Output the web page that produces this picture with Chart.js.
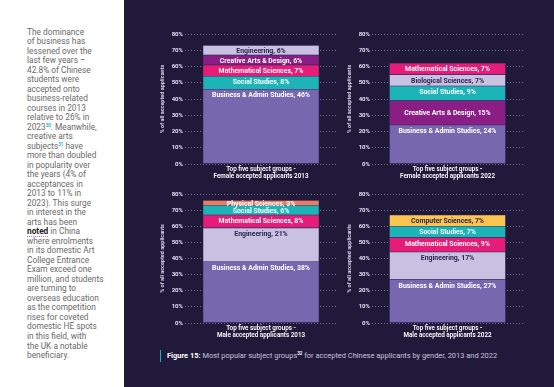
<!DOCTYPE html>
<html>
<head>
<meta charset="utf-8">
<script src="https://cdn.jsdelivr.net/npm/chart.js@4.4.1/dist/chart.umd.min.js"></script>
<style>
  html, body { margin: 0; padding: 0; }
  body { width: 554px; height: 387px; background: #fff; position: relative; overflow: hidden; font-family: Roboto, sans-serif; }
  #copy { position: absolute; left: 27px; top: 27.5px; font-size: 8.3px; line-height: 9.51px; color: #6a6a6a; white-space: nowrap; }
  #copy sup { color: #1db4b7; font-size: 4.5px; font-weight: bold; vertical-align: 3px; line-height: 0; }
  #copy b { color: #222; border-bottom: 1px dotted #b07ad0; }
  #panel { position: absolute; left: 124px; top: 0; width: 430px; height: 387px; background: #21193a; }
  canvas { position: absolute; }
  #caption { position: absolute; left: 167px; top: 351px; font-size: 7.45px; line-height: 10px; color: #c9c5da; white-space: nowrap; }
  #caption b { color: #fff; }
  #caption sup { font-size: 4.5px; color: #fff; font-weight: bold; vertical-align: 3px; line-height: 0; }
  #rule { position: absolute; left: 159.5px; top: 350px; width: 1.5px; height: 12px; background: #1db4b7; }
</style>
</head>
<body>
<div id="copy">
The dominance<br>
of business has<br>
lessened over the<br>
last few years –<br>
42.8% of Chinese<br>
students were<br>
accepted onto<br>
business-related<br>
courses in 2013<br>
relative to 26% in<br>
2023<sup>30</sup>. Meanwhile,<br>
creative arts<br>
subjects<sup>31</sup> have<br>
more than doubled<br>
in popularity over<br>
the years (4% of<br>
acceptances in<br>
2013 to 11% in<br>
2023). This surge<br>
in interest in the<br>
arts has been<br>
<b>noted</b> in China<br>
where enrolments<br>
in its domestic Art<br>
College Entrance<br>
Exam exceed one<br>
million, and students<br>
are turning to<br>
overseas education<br>
as the competition<br>
rises for coveted<br>
domestic HE spots<br>
in this field, with<br>
the UK a notable<br>
beneficiary.
</div>
<div id="panel"></div>
<canvas id="c1" width="185" height="156" style="left:158px;top:26px"></canvas>
<canvas id="c2" width="184" height="156" style="left:345px;top:26px"></canvas>
<canvas id="c3" width="185" height="155" style="left:158px;top:186px"></canvas>
<canvas id="c4" width="184" height="155" style="left:345px;top:186px"></canvas>
<div id="rule"></div>
<div id="caption"><b>Figure 15:</b> Most popular subject groups<sup>32</sup> for accepted Chinese applicants by gender, 2013 and 2022</div>
<script>
// values (bottom segment first)
const female2013Subjects = ['Business & Admin Studies', 'Social Studies', 'Mathematical Sciences', 'Creative Arts & Design', 'Engineering'];
const female2013Values = [46, 8, 7, 6, 6];

const female2022Subjects = ['Business & Admin Studies', 'Creative Arts & Design', 'Social Studies', 'Biological Sciences', 'Mathematical Sciences'];
const female2022Values = [24, 15, 9, 7, 7];

const male2013Subjects = ['Business & Admin Studies', 'Engineering', 'Mathematical Sciences', 'Social Studies', 'Physical Sciences'];
const male2013Values = [38, 21, 8, 6, 3];

const male2022Subjects = ['Business & Admin Studies', 'Engineering', 'Mathematical Sciences', 'Social Studies', 'Computer Sciences'];
const male2022Values = [27, 17, 9, 7, 7];

const yTicks = [0, 10, 20, 30, 40, 50, 60, 70, 80];

const colours = {
  'Business & Admin Studies': '#7767ae',
  'Social Studies': '#1db4b7',
  'Mathematical Sciences': '#e61d78',
  'Creative Arts & Design': '#8a1e84',
  'Engineering': '#c8c1e1',
  'Biological Sciences': '#c8c1e1',
  'Physical Sciences': '#f07b5d',
  'Computer Sciences': '#fcc54f'
};
const darkText = ['Engineering', 'Biological Sciences', 'Computer Sciences'];

Chart.defaults.font.family = 'Roboto, sans-serif';

const segmentLabels = {
  id: 'segmentLabels',
  afterDatasetsDraw(chart, args, opts) {
    const ctx = chart.ctx;
    ctx.save();
    ctx.font = 'bold 6.9px Roboto';
    ctx.textAlign = 'center';
    ctx.textBaseline = 'middle';
    chart.data.datasets.forEach((ds, i) => {
      const bar = chart.getDatasetMeta(i).data[0];
      const h = bar.base - bar.y;
      const dy = opts.centred.includes(i) ? h / 2 : Math.min(h / 2 + 1, 6.5);
      ctx.fillStyle = darkText.includes(ds.label) ? '#2b2350' : '#ffffff';
      ctx.fillText(ds.label + ', ' + ds.data[0] + '%', bar.x, bar.y + dy);
    });
    ctx.restore();
  }
};

function makeChart(id, subjects, values, title, yWidth, xHeight, centred) {
  new Chart(document.getElementById(id), {
    type: 'bar',
    data: {
      labels: [''],
      datasets: subjects.map((s, i) => ({
        label: s,
        data: [values[i]],
        backgroundColor: colours[s],
        borderColor: 'rgba(61,52,112,0.7)',
        borderWidth: 0.6,
        borderSkipped: false,
        barThickness: 116
      }))
    },
    options: {
      responsive: false,
      animation: false,
      layout: { padding: { top: 8, right: 6, bottom: 0, left: 0 } },
      plugins: {
        legend: { display: false },
        tooltip: { enabled: false },
        segmentLabels: { centred: centred }
      },
      scales: {
        x: {
          stacked: true,
          ticks: { display: false },
          grid: { display: false },
          border: { display: false },
          title: {
            display: true,
            text: title,
            color: '#ffffff',
            font: { size: 6.3, weight: '600', lineHeight: 1.17 },
            padding: { top: 0, bottom: 2 }
          },
          afterFit: s => { s.height = xHeight; }
        },
        y: {
          stacked: true,
          min: yTicks[0],
          max: yTicks[yTicks.length - 1],
          afterBuildTicks: s => { s.ticks = yTicks.map(v => ({ value: v })); },
          ticks: {
            callback: v => v + '%',
            color: '#e4e1ef',
            font: { size: 6, weight: 'bold' },
            padding: 2
          },
          grid: { color: 'rgba(175,170,200,0.6)', drawTicks: false, lineWidth: 1 },
          border: { display: false, dash: [1, 2] },
          title: {
            display: true,
            text: '% of all accepted applicants',
            color: '#d9d5e6',
            font: { size: 5.5, weight: 'bold' },
            padding: { top: 1.5, bottom: 0 }
          },
          afterFit: s => { s.width = yWidth; }
        }
      }
    },
    plugins: [segmentLabels]
  });
}

makeChart('c1', female2013Subjects, female2013Values, ['Top five subject groups -', 'Female accepted applicants 2013'], 27, 18, []);
makeChart('c2', female2022Subjects, female2022Values, ['Top five subject groups -', 'Female accepted applicants 2022'], 27, 18, [1]);
makeChart('c3', male2013Subjects, male2013Values, ['Top five subject groups -', 'Male accepted applicants 2013'], 27, 18, []);
makeChart('c4', male2022Subjects, male2022Values, ['Top five subject groups -', 'Male accepted applicants 2022'], 27, 18, []);
</script>
</body>
</html>
